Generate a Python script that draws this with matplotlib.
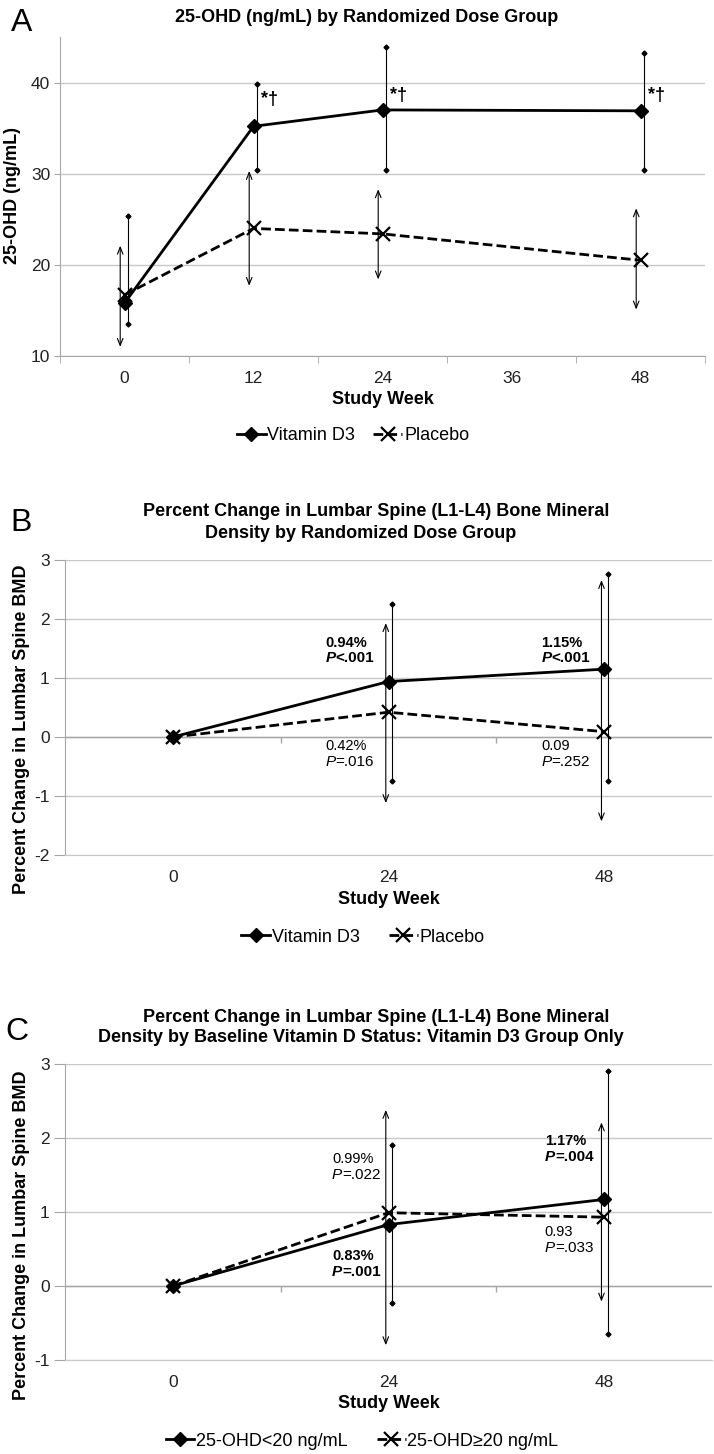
import numpy as np
import matplotlib.pyplot as plt

plt.rcParams['font.family'] = ['Liberation Sans', 'DejaVu Sans']
plt.rcParams['axes.unicode_minus'] = False

# ---- panel A: 25-OHD by dose group
weeks_a = [0, 12, 24, 48]
a_ticks = [0, 12, 24, 36, 48]
vitd_a = [15.8, 35.2, 37.0, 36.9]
vitd_a_lo = [13.5, 30.4, 30.4, 30.4]
vitd_a_hi = [25.4, 39.8, 43.9, 43.2]
plac_a = [16.7, 24.0, 23.4, 20.5]
plac_a_lo = [11.0, 17.7, 18.4, 15.1]
plac_a_hi = [22.1, 30.3, 28.3, 26.2]
sig_weeks_a = [12, 24, 48]
sig_y_a = [38.1, 38.6, 38.6]

# ---- panel B: BMD change by dose group
weeks_bc = [0, 24, 48]
vitd_b = [0, 0.94, 1.15]
vitd_b_lo = [0, -0.74, -0.74]
vitd_b_hi = [0, 2.25, 2.77]
plac_b = [0, 0.42, 0.09]
plac_b_lo = [0, -1.12, -1.43]
plac_b_hi = [0, 1.93, 2.66]
notes_b = [  # (pct text, p text, bold, x, y of first line)
    ('0.94%', '<.001', True, 17.0, 1.60),
    ('1.15%', '<.001', True, 41.0, 1.60),
    ('0.42%', '=.016', False, 17.0, -0.16),
    ('0.09', '=.252', False, 41.0, -0.16),
]

# ---- panel C: BMD change by baseline status
low_c = [0, 0.83, 1.17]
low_c_lo = [0, -0.23, -0.65]
low_c_hi = [0, 1.91, 2.90]
high_c = [0, 0.99, 0.93]
high_c_lo = [0, -0.80, -0.21]
high_c_hi = [0, 2.38, 2.21]
notes_c = [
    ('0.99%', '=.022', False, 17.7, 1.72),
    ('0.83%', '=.001', True, 17.7, 0.41),
    ('1.17%', '=.004', True, 41.4, 1.96),
    ('0.93', '=.033', False, 41.4, 0.73),
]

GRID = '#c8c8c8'
AX = '#a6a6a6'
W, H = 714, 1454


def fx(px):
    return px / W


def fy(py):
    return 1 - py / H


def dot_bars(ax, x, lo, hi, dx):
    for xi, l, h in zip(x, lo, hi):
        if l == h:
            continue
        ax.plot([xi + dx, xi + dx], [l, h], color='k', lw=0.8,
                marker='D', ms=2.5, zorder=2)


def arrow_bars(ax, x, lo, hi, dx):
    for xi, l, h in zip(x, lo, hi):
        if l == h:
            continue
        ax.annotate('', xy=(xi + dx, h), xytext=(xi + dx, l),
                    arrowprops=dict(arrowstyle='<->,head_length=0.5,head_width=0.2',
                                    lw=0.8, color='k', shrinkA=0, shrinkB=0),
                    zorder=2)


def draw_lines(ax, x, solid, dashed, lab1, lab2):
    ax.plot(x, solid, color='k', lw=2.0, marker='D', ms=7, label=lab1, zorder=4)
    ax.plot(x, dashed, color='k', lw=2.0, ls=(0, (3.5, 1.5)), marker='x',
            ms=10, mew=1.6, label=lab2, zorder=3)


def base_style(ax, ylim, yticks, ylen):
    ax.set_ylim(ylim)
    ax.set_yticks(yticks)
    ax.grid(axis='y', color=GRID, lw=1)
    ax.set_axisbelow(True)
    for s in ['top', 'right']:
        ax.spines[s].set_visible(False)
    ax.spines['left'].set_color(AX)
    ax.tick_params(axis='y', length=ylen, color=AX, labelsize=12.5, pad=3,
                   labelcolor='#222222')
    ax.tick_params(axis='x', which='major', length=0, labelsize=12.5, pad=11,
                   labelcolor='#222222')


def notes(ax, items):
    for pct, pv, bold, x, y in items:
        w = 'bold' if bold else 'normal'
        ax.text(x, y, pct, fontsize=10.5, fontweight=w, ha='left', va='center')
        tp = ax.text(x, y - 0.26 * (1 if ax.get_ylim()[1] - ax.get_ylim()[0] > 4.5 else 0.85),
                     'P', fontsize=11, fontweight=w, style='italic', ha='left', va='center')
        ax.annotate(pv, xy=(1, 0), xycoords=tp, fontsize=11, fontweight=w,
                    ha='left', va='bottom')


fig = plt.figure(figsize=(7.14, 14.54), dpi=100)

# ---------- A
axa = fig.add_axes([fx(60), fy(356), fx(645), 319 / H])
draw_lines(axa, weeks_a, vitd_a, plac_a, 'Vitamin D3', 'Placebo')
dot_bars(axa, weeks_a, vitd_a_lo, vitd_a_hi, 0.3)
arrow_bars(axa, weeks_a, plac_a_lo, plac_a_hi, -0.4)
for wk, yv in zip(sig_weeks_a, sig_y_a):
    axa.text(wk + 0.7, yv, '*†', fontsize=13, fontweight='bold', ha='left', va='center')
axa.set_xlim(-6, 54)
axa.set_xticks(a_ticks)
axa.set_xticks(np.arange(-6, 55, 12), minor=True)
base_style(axa, (10, 45), [10, 20, 30, 40], 4)
axa.tick_params(axis='x', which='minor', length=5, color=AX)
axa.spines['bottom'].set_color(AX)
axa.text(0.5, -44 / 319, 'Study Week', transform=axa.transAxes, ha='center',
         va='center', fontsize=13, fontweight='bold')
fig.text(fx(367), fy(17), '25-OHD (ng/mL) by Randomized Dose Group', ha='center',
         va='center', fontsize=13, fontweight='bold')
fig.text(fx(22), fy(23), 'A', ha='center', va='center', fontsize=23)
fig.text(fx(13), fy(196), '25-OHD (ng/mL)', rotation=90, ha='center', va='center',
         fontsize=13, fontweight='bold')
fig.legend(*axa.get_legend_handles_labels(), loc='center', bbox_to_anchor=(fx(353), fy(436)),
           ncol=2, frameon=False, fontsize=13, handlelength=1.6, handletextpad=0.1,
           columnspacing=1.0)

# ---------- B / C
panels = [
    (fy(855), 295, (-2, 3), [-2, -1, 0, 1, 2, 3], vitd_b, plac_b,
     (vitd_b_lo, vitd_b_hi), (plac_b_lo, plac_b_hi), 'Vitamin D3', 'Placebo', notes_b,
     ['Percent Change in Lumbar Spine (L1-L4) Bone Mineral',
      'Density by Randomized Dose Group'], (512, 533), 'B', (21, 523), 729,
     (363, 937)),
    (fy(1360), 296, (-1, 3), [-1, 0, 1, 2, 3], low_c, high_c,
     (low_c_lo, low_c_hi), (high_c_lo, high_c_hi), '25-OHD<20 ng/mL', '25-OHD≥20 ng/mL',
     notes_c,
     ['Percent Change in Lumbar Spine (L1-L4) Bone Mineral',
      'Density by Baseline Vitamin D Status: Vitamin D3 Group Only'], (1017, 1037), 'C',
     (17, 1032), 1235, (362, 1441)),
]
title_x = [376, 361]
for (bot, hpx, ylim, yt, s1, s2, e1, e2, l1, l2, nts, tl, ty, letter, lpos, yc,
     legpos) in panels:
    ax = fig.add_axes([fx(65), bot, fx(647), hpx / H])
    draw_lines(ax, weeks_bc, s1, s2, l1, l2)
    dot_bars(ax, weeks_bc, e1[0], e1[1], 0.4)
    arrow_bars(ax, weeks_bc, e2[0], e2[1], -0.3)
    ax.set_xlim(-12, 60)
    ax.set_xticks(weeks_bc)
    base_style(ax, ylim, yt, 8)
    ax.spines['bottom'].set_color(GRID)
    ax.axhline(0, color=AX, lw=1, zorder=1)
    ax.plot([12, 36], [0, 0], ls='none', marker=3, ms=4, mew=1, color=AX, zorder=1)
    notes(ax, nts)
    ax.text(0.5, -44 / hpx, 'Study Week', transform=ax.transAxes, ha='center',
            va='center', fontsize=13, fontweight='bold')
    for t, yy, xx in zip(tl, ty, title_x):
        fig.text(fx(xx), fy(yy), t, ha='center', va='center', fontsize=13,
                 fontweight='bold')
    fig.text(fx(lpos[0]), fy(lpos[1]), letter, ha='center', va='center', fontsize=23)
    fig.text(fx(22), fy(yc), 'Percent Change in Lumbar Spine BMD', rotation=90,
             ha='center', va='center', fontsize=13, fontweight='bold')
    fig.legend(*ax.get_legend_handles_labels(), loc='center',
               bbox_to_anchor=(fx(legpos[0]), fy(legpos[1])), ncol=2, frameon=False,
               fontsize=13, handlelength=1.6, handletextpad=0.1, columnspacing=1.6)

fig.savefig('out.png', dpi=100)
